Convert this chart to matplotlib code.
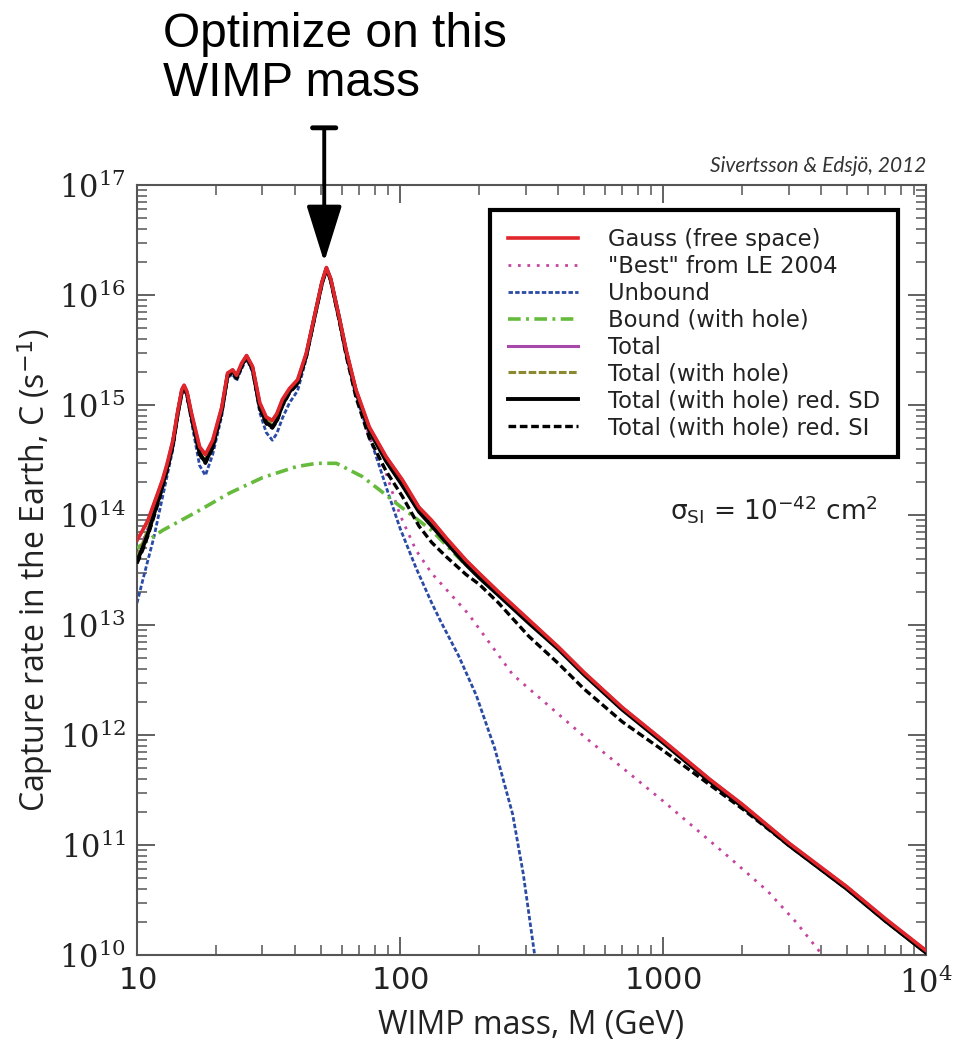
import numpy as np
import matplotlib
matplotlib.use("Agg")
import matplotlib.pyplot as plt
from matplotlib.lines import Line2D
from matplotlib.ticker import LogLocator, FuncFormatter, NullFormatter

# ===============================
# Data (WIMP mass in GeV, log10 of capture rate)
# ===============================
mass = [10, 10.5, 11, 12, 12.5, 13, 13.7, 14.3, 14.8, 15.1,
        15.5, 16.1, 17.3, 18.2, 19.4, 21, 22.1, 23.1, 23.9, 25,
        26.1, 27.5, 29.3, 31, 32.7, 34, 35.7, 38, 40.8, 44,
        48.1, 50.5, 52.5, 54.5, 58.7, 62.4, 68, 76.4, 88.5, 102,
        118, 132, 150, 178, 200, 237, 308, 400, 500, 700,
        1000, 1500, 2000, 3000, 5000, 7000, 10000]

gauss_logc = [13.77, 13.86, 13.95, 14.20, 14.32, 14.46, 14.68, 14.95, 15.14, 15.18,
              15.12, 14.93, 14.62, 14.55, 14.68, 14.98, 15.29, 15.32, 15.27, 15.38,
              15.45, 15.35, 15.02, 14.89, 14.86, 14.92, 15.05, 15.15, 15.23, 15.47,
              15.89, 16.12, 16.25, 16.15, 15.80, 15.50, 15.14, 14.80, 14.53, 14.32,
              14.07, 13.95, 13.79, 13.59, 13.47, 13.30, 13.05, 12.80, 12.57, 12.25,
              11.95, 11.60, 11.37, 11.02, 10.62, 10.33, 10.04]

total_logc = list(gauss_logc)

hole_logc = [13.62, 13.74, 13.87, 14.15, 14.29, 14.44, 14.66, 14.94, 15.13, 15.17,
             15.11, 14.91, 14.59, 14.51, 14.65, 14.96, 15.28, 15.31, 15.26, 15.37,
             15.44, 15.34, 15.00, 14.86, 14.83, 14.89, 15.02, 15.13, 15.21, 15.46,
             15.88, 16.11, 16.24, 16.14, 15.79, 15.49, 15.13, 14.78, 14.51, 14.30,
             14.05, 13.93, 13.77, 13.58, 13.46, 13.29, 13.04, 12.79, 12.56, 12.24,
             11.94, 11.59, 11.36, 11.01, 10.61, 10.32, 10.03]

sd_logc = [13.58, 13.70, 13.83, 14.12, 14.27, 14.42, 14.65, 14.93, 15.12, 15.17,
           15.10, 14.90, 14.56, 14.48, 14.62, 14.95, 15.27, 15.31, 15.25, 15.36,
           15.44, 15.33, 14.98, 14.84, 14.80, 14.86, 15.00, 15.12, 15.20, 15.45,
           15.88, 16.11, 16.24, 16.14, 15.79, 15.48, 15.12, 14.77, 14.49, 14.27,
           14.03, 13.90, 13.75, 13.55, 13.43, 13.27, 13.02, 12.78, 12.55, 12.23,
           11.93, 11.58, 11.35, 11.00, 10.60, 10.31, 10.02]

si_logc = [13.56, 13.68, 13.81, 14.10, 14.25, 14.40, 14.63, 14.92, 15.11, 15.16,
           15.09, 14.89, 14.55, 14.47, 14.61, 14.94, 15.26, 15.30, 15.24, 15.35,
           15.43, 15.32, 14.97, 14.83, 14.79, 14.85, 14.99, 15.11, 15.19, 15.44,
           15.87, 16.10, 16.23, 16.13, 15.77, 15.45, 15.07, 14.70, 14.40, 14.17,
           13.90, 13.75, 13.62, 13.46, 13.37, 13.20, 12.90, 12.65, 12.42, 12.12,
           11.86, 11.55, 11.33, 11.00, 10.60, 10.31, 10.02]

best_mass = [10, 11, 12, 13, 14.3, 15.1, 16.1, 17.3, 18.2, 19.4,
             21, 22.1, 23.1, 23.9, 25, 26.1, 27.5, 29.3, 31, 32.7,
             34, 35.7, 38, 40.8, 44, 48.1, 50.5, 52.5, 54.5, 58.7,
             62.4, 68, 76.4, 88.5, 100, 115, 132, 153, 182, 268,
             505, 1000, 1780, 2500, 3200, 3880, 4200]
best_logc = [13.62, 13.88, 14.13, 14.42, 14.92, 15.16, 14.89, 14.56, 14.49, 14.62,
             14.95, 15.27, 15.31, 15.25, 15.36, 15.44, 15.33, 14.98, 14.84, 14.80,
             14.87, 15.00, 15.12, 15.20, 15.45, 15.88, 16.11, 16.24, 16.14, 15.79,
             15.47, 15.09, 14.72, 14.38, 14.00, 13.68, 13.47, 13.30, 13.10, 12.55,
             11.98, 11.40, 10.89, 10.58, 10.30, 10.05, 9.95]

unbound_mass = [10, 10.6, 11.6, 12.6, 13.7, 14.3, 14.8, 15.1, 15.5, 16.1,
                17.3, 18.2, 19.4, 21, 22.1, 23.1, 23.9, 25, 26.1, 27.5,
                29.3, 31, 32.7, 34, 35.7, 38, 40.8, 44, 48.1, 50.5,
                52.5, 54.5, 58.7, 62.4, 68, 76.4, 83.3, 90.7, 100, 115,
                132, 143, 167, 195, 229, 268, 294, 325, 335]
unbound_logc = [13.20, 13.44, 13.80, 14.20, 14.60, 14.90, 15.11, 15.16, 15.08, 14.85,
                14.45, 14.36, 14.55, 14.90, 15.25, 15.28, 15.22, 15.33, 15.42, 15.30,
                14.93, 14.75, 14.68, 14.74, 14.88, 15.02, 15.13, 15.42, 15.87, 16.10,
                16.24, 16.13, 15.77, 15.46, 15.08, 14.72, 14.45, 14.18, 13.88, 13.52,
                13.20, 13.03, 12.72, 12.36, 11.88, 11.28, 10.74, 10.00, 9.75]

bound_mass = [10, 12.5, 16.9, 22.5, 30, 40.4, 48.1, 57.3, 71.8, 85.5,
              100, 132, 172, 200, 237, 308, 400, 500, 700, 1000,
              1500, 2000, 3000, 5000, 7000, 10000]
bound_logc = [13.70, 13.86, 14.03, 14.20, 14.34, 14.44, 14.47, 14.47, 14.35, 14.21,
              14.08, 13.86, 13.58, 13.45, 13.29, 13.04, 12.79, 12.56, 12.24, 11.94,
              11.59, 11.36, 11.01, 10.61, 10.32, 10.03]

labels = ["Gauss (free space)", '"Best" from LE 2004', "Unbound", "Bound (with hole)",
          "Total", "Total (with hole)", "Total (with hole) red. SD", "Total (with hole) red. SI"]

# ===============================
# Styles
# ===============================
red = '#e0262b'
styles = [
    dict(color=red, lw=2.6),
    dict(color='#c4449e', lw=2.0, ls=(0, (1, 2.4))),
    dict(color='#2a4aa6', lw=2.0, ls=(0, (1.6, 0.8))),
    dict(color='#66bb3c', lw=2.6, ls=(0, (3.5, 1.5, 0.8, 1.5))),
    dict(color='#a848a8', lw=2.2),
    dict(color='#8c8a30', lw=2.2, ls=(0, (2.5, 0.8))),
    dict(color='black', lw=2.8),
    dict(color='black', lw=2.4, ls=(0, (2.3, 1.1))),
]

# ===============================
# Figure
# ===============================
plt.rcParams['mathtext.fontset'] = 'dejavuserif'
fig = plt.figure(figsize=(9.6, 10.4), dpi=100)
ax = fig.add_axes([0.1427, 0.0817, 0.822, 0.7404])

def pw(v):
    return 10 ** np.array(v)

ax.plot(unbound_mass, pw(unbound_logc), zorder=2, **styles[2])
ax.plot(best_mass, pw(best_logc), zorder=2, **styles[1])
ax.plot(bound_mass, pw(bound_logc), zorder=3, **styles[3])
ax.plot(mass, pw(total_logc), zorder=3, **styles[4])
ax.plot(mass, pw(hole_logc), zorder=3, **styles[5])
ax.plot(mass, pw(si_logc), zorder=4, **styles[7])
ax.plot(mass, pw(sd_logc), zorder=4, **styles[6])
ax.plot(mass, pw(gauss_logc), zorder=5, **styles[0])

ax.set_xscale('log')
ax.set_yscale('log')
ax.set_xlim(10, 1e4)
ax.set_ylim(1e10, 1e17)

ax.yaxis.set_major_locator(LogLocator(base=10, numticks=20))
ax.yaxis.set_minor_locator(LogLocator(base=10, subs=np.arange(2, 10), numticks=20))
ax.yaxis.set_major_formatter(FuncFormatter(lambda v, p: r'$10^{%d}$' % round(np.log10(v))))
ax.yaxis.set_minor_formatter(NullFormatter())

def xfmt(v, p):
    k = round(np.log10(v))
    return r'$10^{4}$' if k >= 4 else r'$\mathregular{%d}$' % round(v)
ax.xaxis.set_major_formatter(FuncFormatter(xfmt))
ax.xaxis.set_minor_formatter(NullFormatter())

ax.tick_params(which='both', direction='in', top=True, right=True, colors='#555555')
ax.tick_params(which='major', length=13, width=1.3, labelsize=22, labelcolor='#222222', pad=8)
ax.tick_params(which='minor', length=7, width=1.1)
for s in ax.spines.values():
    s.set_color('#555555')
    s.set_linewidth(1.5)

ax.set_xlabel('WIMP mass, M (GeV)', fontsize=23, family='Open Sans', color='#222222', labelpad=7)
ax.set_ylabel(r'Capture rate in the Earth, C (s$^{\mathsf{-1}}$)', fontsize=23, family='Open Sans',
              color='#222222', labelpad=3)

# ===============================
# Legend
# ===============================
handles = [Line2D([], [], **st) for st in styles]
leg = ax.legend(handles, labels, loc='upper right', bbox_to_anchor=(0.9645, 0.9675),
                fontsize=16.3, frameon=True, fancybox=False, edgecolor='black', framealpha=1,
                handlelength=3.1, handletextpad=1.3, labelspacing=0.17,
                borderpad=0.8, borderaxespad=0)
leg.get_frame().set_linewidth(3)
for t in leg.get_texts():
    t.set_color('#222222')

ax.text(0.675, 0.565, r'σ$_{\mathsf{SI}}$ = 10$^{\mathsf{-42}}$ cm$^{\mathsf{2}}$', transform=ax.transAxes,
        fontsize=19, color='#222222')
ax.text(1.0, 1.012, 'Sivertsson & Edsjö, 2012', transform=ax.transAxes, ha='right',
        va='bottom', fontsize=15, style='italic', family='Lato', color='#333333')

# ===============================
# Annotation arrow
# ===============================
fig.text(163 / 960, 1 - 12 / 1040, 'Optimize on this\nWIMP mass', fontsize=34.5,
         family='Liberation Sans', va='top', ha='left', linespacing=1.1)
ax.annotate('', xy=(51.5, 10 ** 16.3), xytext=(51.5, 10 ** 17.52),
            arrowprops=dict(arrowstyle='-|>,head_length=1.6,head_width=0.5', color='black',
                            lw=2.8, mutation_scale=22, shrinkA=0, shrinkB=0),
            annotation_clip=False)
ax.annotate('', xy=(46.5, 10 ** 17.52), xytext=(57.0, 10 ** 17.52),
            arrowprops=dict(arrowstyle='-', color='black', lw=3.5, shrinkA=0, shrinkB=0),
            annotation_clip=False)

fig.savefig('out.png', dpi=100)
